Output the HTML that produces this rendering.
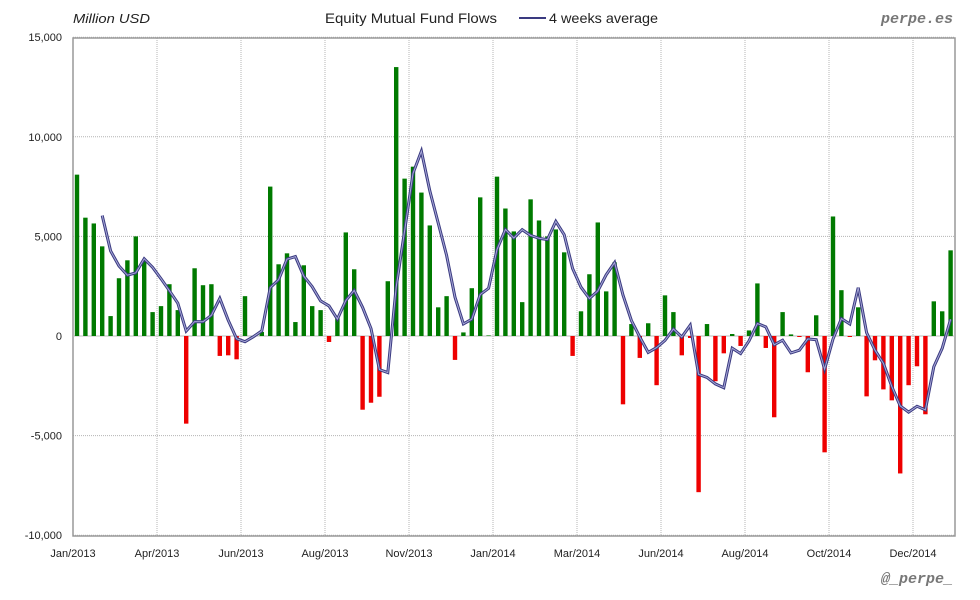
<!DOCTYPE html>
<html><head><meta charset="utf-8"><style>
html,body{margin:0;padding:0;background:#fff;}
svg{display:block;font-family:"Liberation Sans",sans-serif;}
</style></head><body>
<svg id="c" width="980" height="600" xmlns="http://www.w3.org/2000/svg">
<rect width="980" height="600" fill="#fff"/>
<text x="73" y="23" font-size="13" font-style="italic" fill="#222" textLength="77" lengthAdjust="spacingAndGlyphs">Million USD</text>
<text x="325" y="23" font-size="14" fill="#222" textLength="172" lengthAdjust="spacingAndGlyphs">Equity Mutual Fund Flows</text>
<line x1="519" y1="18" x2="546" y2="18" stroke="#3a3a80" stroke-width="2"/>
<text x="549" y="23" font-size="14" fill="#222" textLength="109" lengthAdjust="spacingAndGlyphs">4 weeks average</text>
<text x="953" y="23" font-size="15" font-weight="bold" font-style="italic" fill="#777" text-anchor="end" font-family="Liberation Mono,monospace">perpe.es</text>
<text x="953" y="583" font-size="15" font-weight="bold" font-style="italic" fill="#777" text-anchor="end" font-family="Liberation Mono,monospace">@_perpe_</text>
<g id="g"></g>
</svg>
<script>
var v=[8.1,5.94,5.65,4.5,1.0,2.9,3.8,5.0,3.8,1.2,1.5,2.6,1.3,-4.4,3.4,2.55,2.6,-1.0,-0.97,-1.17,2.0,0,0.2,7.5,3.6,4.15,0.7,3.55,1.5,1.3,-0.3,0.9,5.2,3.35,-3.7,-3.35,-3.05,2.75,
13.5,7.9,8.5,7.2,5.55,1.44,2.0,-1.2,0.18,2.4,6.96,0.03,8.0,6.4,5.25,1.7,6.86,5.8,5.0,5.35,4.2,-1.0,1.24,3.1,5.7,2.24,3.7,-3.43,0.6,-1.1,0.64,-2.47,2.04,
1.2,-0.97,-0.1,-7.84,0.6,-2.27,-0.87,0.1,-0.5,0.28,2.64,-0.6,-4.08,1.2,0.08,-0.05,-1.82,1.04,-5.84,6.0,2.3,-0.05,1.44,-3.03,-1.22,-2.68,-3.23,-6.9,-2.47,-1.52,-3.93,1.74,1.24,4.3];
var L=73,R=955,T=38,B=536,Z=336,k=19.92;
function Y(x){return Z-x*k;}
var s='';
for(var i=-10;i<=15;i+=5){var y=Y(i);s+='<line x1="'+L+'" y1="'+y+'" x2="'+R+'" y2="'+y+'" stroke="#b4b4b4" stroke-width="1" stroke-dasharray="1,1"/>';
s+='<text x="62" y="'+(y+4)+'" font-size="11" text-anchor="end" fill="#222">'+(i==0?'0':(i*1000).toLocaleString('en-US'))+'</text>';}
var labs=['Jan/2013','Apr/2013','Jun/2013','Aug/2013','Nov/2013','Jan/2014','Mar/2014','Jun/2014','Aug/2014','Oct/2014','Dec/2014'];
for(var j=0;j<labs.length;j++){var x=L+84*j;
if(j>0)s+='<line x1="'+x+'" y1="'+T+'" x2="'+x+'" y2="'+B+'" stroke="#b4b4b4" stroke-width="1" stroke-dasharray="1,1"/>';
s+='<text x="'+x+'" y="557" font-size="11" text-anchor="middle" fill="#222">'+labs[j]+'</text>';}
s+='<rect x="'+L+'" y="'+T+'" width="'+(R-L)+'" height="'+(B-T)+'" fill="none" stroke="#999" stroke-width="1.5"/>';
s+='<line x1="'+L+'" y1="'+Z+'" x2="'+R+'" y2="'+Z+'" stroke="#bbb" stroke-width="1"/>';
for(var i=0;i<v.length;i++){var cx=77+8.4*i,h=Math.abs(v[i])*k;
var y=v[i]>=0?Z-h:Z;s+='<rect x="'+(cx-2.2)+'" y="'+y+'" width="4.4" height="'+Math.max(h,0.5)+'" fill="'+(v[i]>=0?'#007a00':'#ee0000')+'"/>';}
var p=[];for(var i=3;i<v.length;i++){var a=(v[i]+v[i-1]+v[i-2]+v[i-3])/4;p.push((77+8.4*i).toFixed(1)+','+Y(a).toFixed(1));}
s+='<polyline points="'+p.join(' ')+'" fill="none" stroke="#3a3a80" stroke-width="3"/>';
s+='<polyline points="'+p.join(' ')+'" fill="none" stroke="#a8a8d8" stroke-width="1"/>';
document.getElementById('g').innerHTML=s;
</script>
</body></html>
